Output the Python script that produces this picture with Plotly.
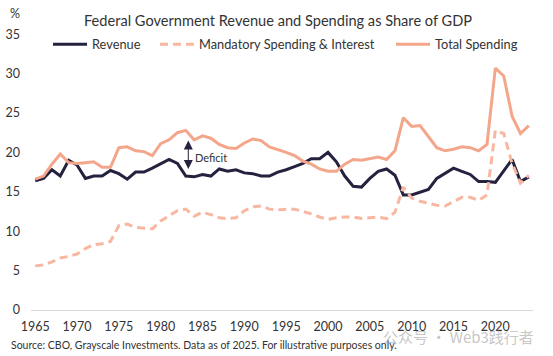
import plotly.graph_objects as go

W, H = 553, 356

years = list(range(1965, 2025))

revenue = [16.4, 16.7, 17.8, 17.0, 19.0, 18.4, 16.7, 17.0, 17.0, 17.7,
           17.3, 16.6, 17.5, 17.5, 18.0, 18.5, 19.1, 18.6, 17.0, 16.9,
           17.2, 17.0, 17.9, 17.6, 17.8, 17.4, 17.3, 17.0, 17.0, 17.5,
           17.8, 18.2, 18.6, 19.2, 19.2, 20.0, 18.8, 17.0, 15.7, 15.6,
           16.7, 17.6, 17.9, 17.1, 14.6, 14.6, 15.0, 15.3, 16.7, 17.4,
           18.0, 17.6, 17.2, 16.3, 16.3, 16.2, 17.6, 19.1, 16.3, 16.9]

mandatory_interest = [5.6, 5.7, 6.1, 6.6, 6.8, 7.1, 7.8, 8.3, 8.4, 8.7,
                      10.7, 10.9, 10.5, 10.4, 10.3, 11.3, 11.9, 12.6, 12.8, 11.9,
                      12.4, 12.1, 11.7, 11.6, 11.7, 12.6, 13.1, 13.2, 12.8, 12.7,
                      12.8, 12.8, 12.5, 12.2, 11.8, 11.5, 11.7, 11.8, 11.8, 11.6,
                      11.7, 11.8, 11.6, 12.4, 15.6, 14.2, 13.8, 13.5, 13.3, 13.2,
                      13.8, 14.3, 14.3, 13.9, 14.6, 22.8, 22.4, 18.6, 16.1, 17.1]

total_spending = [16.6, 17.0, 18.5, 19.8, 18.7, 18.6, 18.7, 18.8, 18.1, 18.1,
                  20.6, 20.7, 20.2, 20.1, 19.6, 21.1, 21.6, 22.5, 22.8, 21.6,
                  22.1, 21.8, 21.0, 20.6, 20.5, 21.2, 21.7, 21.5, 20.7, 20.3,
                  20.0, 19.6, 18.9, 18.5, 17.9, 17.6, 17.6, 18.5, 19.1, 19.0,
                  19.2, 19.4, 19.1, 20.2, 24.4, 23.3, 23.4, 22.0, 20.6, 20.2,
                  20.4, 20.7, 20.6, 20.2, 21.0, 30.7, 29.7, 24.6, 22.4, 23.4]

x_tick_labels = [1965, 1970, 1975, 1980, 1985, 1990, 1995, 2000, 2005, 2010, 2015, 2020]
y_tick_vals = [0, 5, 10, 15, 20, 25, 30, 35]

deficit_year = 1983.3
deficit_low, deficit_high = 17.7, 21.5

NAVY = "#25223f"
SALMON = "#f4a68b"
SALMON_LIGHT = "#f7b7a1"
TEXT = "#333333"
FONT = "Lato"


def px_x(p):
    return p / W


def px_y(p):
    return (H - p) / H


fig = go.Figure()
fig.add_trace(go.Scatter(x=years, y=revenue, mode="lines", name="Revenue",
                         line=dict(color=NAVY, width=3), legend="legend"))
fig.add_trace(go.Scatter(x=years, y=mandatory_interest, mode="lines",
                         name="Mandatory Spending & Interest",
                         line=dict(color=SALMON_LIGHT, width=3, dash="8px,5px"),
                         legend="legend2"))
fig.add_trace(go.Scatter(x=years, y=total_spending, mode="lines", name="Total Spending",
                         line=dict(color=SALMON, width=3), legend="legend3"))

leg_common = dict(orientation="h", yanchor="middle", y=px_y(44.5), xanchor="left",
                  font=dict(family=FONT, size=12.8, color=TEXT),
                  bgcolor="rgba(0,0,0,0)", borderwidth=0, itemwidth=34)

fig.update_layout(
    width=W, height=H,
    margin=dict(l=0, r=0, t=0, b=0),
    paper_bgcolor="white", plot_bgcolor="white",
    template="none",
    font=dict(family=FONT, color=TEXT),
    showlegend=True,
    legend=dict(x=px_x(48), **leg_common),
    legend2=dict(x=px_x(155), **leg_common),
    legend3=dict(x=px_x(391), **leg_common),
    xaxis=dict(domain=[px_x(31), px_x(533)], range=[1964.5, 2024.5],
               tickvals=x_tick_labels, ticktext=[str(v) for v in x_tick_labels],
               showgrid=False, zeroline=False, showline=True, linecolor="#d9d9d9",
               linewidth=1, ticks="", ticklabelstandoff=5,
               tickfont=dict(family=FONT, size=12.5, color=TEXT), automargin=False),
    yaxis=dict(domain=[px_y(310), px_y(34.2)], range=[0, 35],
               tickvals=y_tick_vals, showgrid=False, zeroline=False, showline=False,
               ticks="", ticklabelstandoff=10,
               tickfont=dict(family=FONT, size=12.5, color=TEXT), automargin=False),
)

fig.add_annotation(text="Federal Government Revenue and Spending as Share of GDP",
                   xref="paper", yref="paper", x=px_x(278), y=px_y(21),
                   xanchor="center", yanchor="middle", showarrow=False,
                   font=dict(family=FONT, size=14.6, color=TEXT))
fig.add_annotation(text="%", xref="paper", yref="paper", x=px_x(15), y=px_y(13),
                   xanchor="center", yanchor="middle", showarrow=False,
                   font=dict(family=FONT, size=12.5, color=TEXT))
fig.add_annotation(text="Source: CBO, Grayscale Investments. Data as of 2025. For illustrative purposes only.",
                   xref="paper", yref="paper", x=px_x(9), y=px_y(345),
                   xanchor="left", yanchor="middle", showarrow=False,
                   font=dict(family=FONT, size=10.5, color=TEXT))
fig.add_annotation(text="公众号 · Web3践行者", xref="paper", yref="paper",
                   x=px_x(536), y=px_y(336), xanchor="right", yanchor="middle",
                   showarrow=False,
                   font=dict(family="Noto Sans CJK SC", size=15, color="rgba(150,150,150,0.55)"))

# Deficit double arrow
fig.add_annotation(x=deficit_year, y=deficit_high, ax=deficit_year, ay=deficit_low,
                   xref="x", yref="y", axref="x", ayref="y", text="",
                   showarrow=True, arrowhead=2, startarrowhead=2, arrowside="end+start",
                   arrowsize=1.8, startarrowsize=1.8, arrowwidth=1, arrowcolor=NAVY)
fig.add_annotation(text="Deficit", x=1983.9, y=19.3, xref="x", yref="y",
                   xanchor="left", yanchor="middle", showarrow=False,
                   font=dict(family=FONT, size=11, color=TEXT))

fig.write_html("out.html", config={"displayModeBar": False},
               post_script="document.body.style.margin='0';document.body.style.overflow='hidden';")
